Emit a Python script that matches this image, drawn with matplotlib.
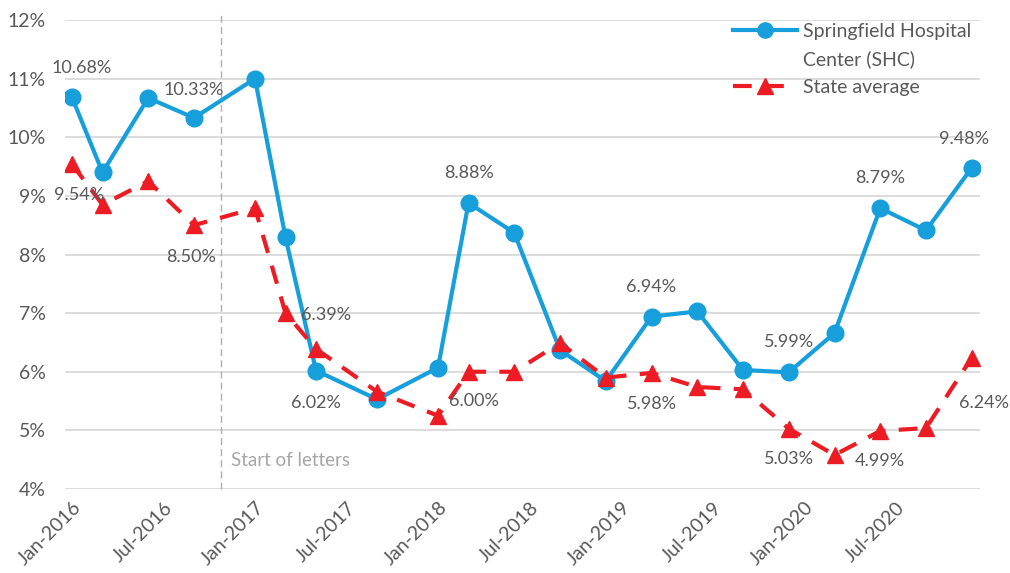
import matplotlib
matplotlib.use("Agg")
import matplotlib.pyplot as plt
from matplotlib.lines import Line2D
import pandas as pd

# ---------------- data ----------------
dates = ["2016-01", "2016-03", "2016-06", "2016-09", "2017-01", "2017-03", "2017-05",
         "2017-09", "2018-01", "2018-03", "2018-06", "2018-09", "2018-12", "2019-03",
         "2019-06", "2019-09", "2019-12", "2020-03", "2020-06", "2020-09", "2020-12"]
shc = [10.68, 9.40, 10.67, 10.33, 11.00, 8.29, 6.02, 5.53, 6.07, 8.88, 8.37, 6.37,
       5.84, 6.94, 7.03, 6.03, 5.99, 6.66, 8.79, 8.41, 9.48]
state = [9.54, 8.85, 9.25, 8.50, 8.79, 7.00, 6.39, 5.66, 5.25, 6.00, 6.00, 6.49,
         5.90, 5.98, 5.74, 5.70, 5.03, 4.58, 4.99, 5.04, 6.24]
tick_dates = ["2016-01", "2016-07", "2017-01", "2017-07", "2018-01", "2018-07",
              "2019-01", "2019-07", "2020-01", "2020-07"]
tick_labels = ["Jan-2016", "Jul-2016", "Jan-2017", "Jul-2017", "Jan-2018", "Jul-2018",
               "Jan-2019", "Jul-2019", "Jan-2020", "Jul-2020"]
yticks = [4, 5, 6, 7, 8, 9, 10, 11, 12]
series_names = ["Springfield Hospital", "Center (SHC)", "State average"]
letters_label = "Start of letters"
letters_month = 9.8  # late Oct 2016, months after Jan-2016

# labelled points: (index, dx px, dy px)
shc_labels = [(0, 10, 29), (3, 0, 28), (6, 0, -32), (9, 0, 30), (13, 0, 30),
              (16, 0, 30), (18, 0, 30), (20, -8, 29)]
state_labels = [(0, 7, -31), (3, -3, -32), (6, 10, 34), (9, 5, -29), (13, 0, -31),
                (16, 0, -30), (18, 0, -30), (20, 12, -45)]

base = pd.Period("2016-01", "M")
def mi(d):
    return (pd.Period(d, "M") - base).n

x = [mi(d) for d in dates]
xt = [mi(d) for d in tick_dates]

BLUE = "#169FDB"
RED = "#ED1C24"
GRAY = "#595959"
plt.rcParams["font.family"] = ["Lato", "DejaVu Sans"]
FS_DATA = 13
FS_TICK = 14

fig = plt.figure(figsize=(10.10, 5.73), dpi=100)
ax = fig.add_axes([65 / 1010, 1 - 489 / 573, (980 - 65) / 1010, (489 - 20) / 573])

ax.plot(x, shc, color=BLUE, lw=3.0, marker="o", ms=12, zorder=3, solid_joinstyle="round")
ax.plot(x, state, color=RED, lw=3.0, ls=(0, (4.5, 3.2)), marker="^", ms=12, zorder=4)

ax.set_xlim(-0.46, 59.54)
ax.set_ylim(4, 12)
ax.set_yticks(yticks)
ax.set_yticklabels([f"{v}%" for v in yticks])
ax.set_xticks(xt)
ax.set_xticklabels(tick_labels, rotation=45, ha="right", rotation_mode="anchor")
ax.tick_params(axis="both", length=0, labelcolor=GRAY, labelsize=FS_TICK)
ax.tick_params(axis="y", pad=14)
ax.tick_params(axis="x", pad=7)
for s in ax.spines.values():
    s.set_visible(False)
ax.grid(axis="y", color="#D9D9D9", lw=1.3)
ax.set_axisbelow(True)

ax.axvline(letters_month, ymin=0, ymax=1.01, color="#AFAFAF", lw=1, ls=(0, (5, 3)),
           clip_on=False, zorder=1)
ax.annotate(letters_label, (letters_month, 4), xytext=(10, 28), textcoords="offset pixels",
            color="#A6A6A6", fontsize=13.5, ha="left", va="center")

for i, dx, dy in shc_labels:
    ax.annotate(f"{shc[i]:.2f}%", (x[i], shc[i]), xytext=(dx, dy), textcoords="offset pixels",
                ha="center", va="center", color=GRAY, fontsize=FS_DATA, zorder=6)
for i, dx, dy in state_labels:
    ax.annotate(f"{state[i]:.2f}%", (x[i], state[i]), xytext=(dx, dy), textcoords="offset pixels",
                ha="center", va="center", color=GRAY, fontsize=FS_DATA, zorder=6)

h1 = Line2D([], [], color=BLUE, lw=3.0, marker="o", ms=11)
h2 = Line2D([], [], color="none")
h3 = Line2D([], [], color=RED, lw=3.0, ls=(0, (4.5, 3.2)), marker="^", ms=11)
leg = fig.legend([h1, h2, h3], series_names, loc="upper left",
                 bbox_to_anchor=(733 / 1010, 1 - 23 / 573), bbox_transform=fig.transFigure,
                 frameon=False, borderpad=0, borderaxespad=0, handlelength=3.3,
                 handletextpad=0.3, labelspacing=0.55, fontsize=FS_TICK)
for t in leg.get_texts():
    t.set_color(GRAY)

fig.savefig("out.png", dpi=100, facecolor="white")
